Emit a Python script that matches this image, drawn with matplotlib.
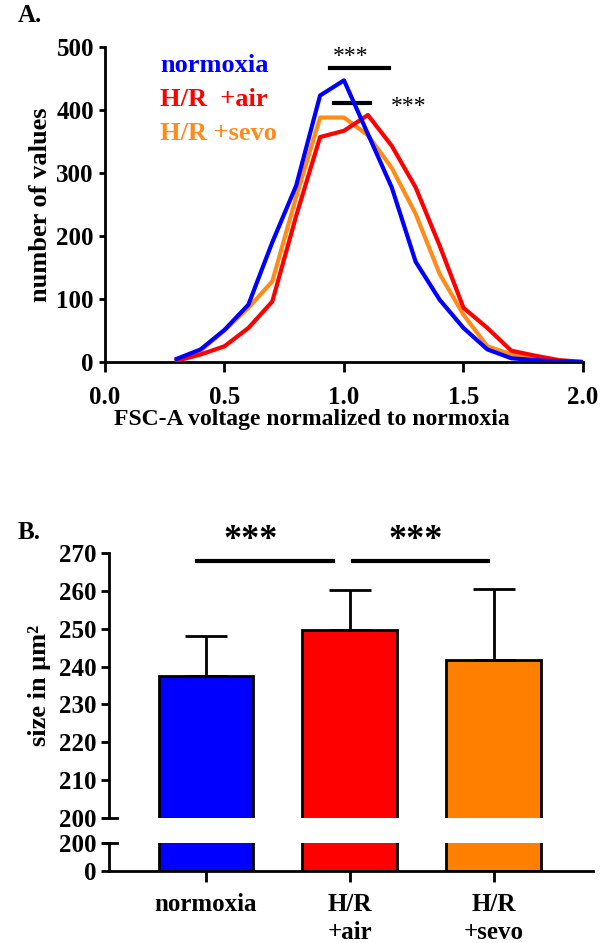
import matplotlib
matplotlib.use("Agg")
import matplotlib.pyplot as plt
import numpy as np

plt.rcParams['font.family'] = ['Liberation Serif', 'DejaVu Serif']
plt.rcParams['font.weight'] = 'bold'

# ---- Panel A data ----
fsc_x = [0.3, 0.4, 0.5, 0.6, 0.7, 0.8, 0.9, 1.0, 1.1, 1.2, 1.3, 1.4, 1.5, 1.6, 1.7, 1.8, 1.9, 2.0]
normoxia_counts = [5, 20, 51, 91, 190, 280, 423, 447, 362, 277, 159, 99, 54, 20, 6, 3, 1, 0]
hr_air_counts = [2, 12, 25, 54, 96, 232, 357, 367, 392, 343, 277, 185, 86, 54, 18, 10, 3, 0]
hr_sevo_counts = [3, 18, 50, 86, 128, 262, 388, 388, 360, 308, 235, 140, 75, 25, 12, 5, 2, 0]
series_names = ["normoxia", "H/R  +air", "H/R +sevo"]
line_colors = ["#0000FF", "#FF0000", "#FF8C1A"]

# ---- Panel B data ----
groups = ["normoxia", "H/R\n+air", "H/R\n+sevo"]
size_mean = [237.5, 249.7, 241.7]
size_sd = [10.5, 10.5, 18.8]
bar_colors = ["#0000FF", "#FF0000", "#FF8000"]

fig = plt.figure(figsize=(6.01, 9.43), dpi=100)

# ================= Panel A =================
axA = fig.add_axes([0.1747, 0.6161, 0.7953, 0.3341])
axA.plot(fsc_x, hr_sevo_counts, color=line_colors[2], lw=3, zorder=2)
axA.plot(fsc_x, hr_air_counts, color=line_colors[1], lw=3, zorder=3)
axA.plot(fsc_x, normoxia_counts, color=line_colors[0], lw=3, zorder=4)
axA.set_xlim(0, 2.0)
axA.set_ylim(0, 500)
axA.set_xticks([0.0, 0.5, 1.0, 1.5, 2.0])
axA.set_xticklabels(["0.0", "0.5", "1.0", "1.5", "2.0"])
axA.set_yticks([0, 100, 200, 300, 400, 500])
for s in ['top', 'right']:
    axA.spines[s].set_visible(False)
for s in ['left', 'bottom']:
    axA.spines[s].set_linewidth(2)
axA.tick_params(axis='x', length=7, width=2, labelsize=18, pad=10)
axA.tick_params(axis='y', length=4, width=2, labelsize=18, pad=4)
axA.set_ylabel("number of values", fontsize=19, fontweight='bold', labelpad=3)
fig.text(312 / 601, 1 - 419 / 943, "FSC-A voltage normalized to normoxia",
         fontsize=17, fontweight='bold', ha='center', va='center')

for name, c, yy in zip(series_names, line_colors, [471, 416, 363]):
    axA.text(0.23, yy, name, color=c, fontsize=19, fontweight='bold', ha='left', va='center')

axA.plot([0.94, 1.19], [466, 466], color='black', lw=3, clip_on=False)
axA.text(1.03, 468, "***", fontsize=17, fontweight='normal', ha='center', va='bottom')
axA.plot([0.957, 1.11], [411, 411], color='black', lw=3, clip_on=False)
axA.text(1.27, 405, "***", fontsize=17, fontweight='normal', ha='center', va='center')

fig.text(0.03, 0.984, "A.", fontsize=18, fontweight='bold', ha='left', va='center')

# ================= Panel B =================
left_b, width_b = 0.1814, 0.8053
axB = fig.add_axes([left_b, 0.1326, width_b, 0.2810])
axB2 = fig.add_axes([left_b, 0.0764, width_b, 0.0297])
xpos = np.arange(len(groups))
for ax in (axB, axB2):
    ax.bar(xpos, size_mean, width=0.66, color=bar_colors, edgecolor='black', linewidth=2, zorder=2)
    ax.set_xlim(-0.674, 2.69)
    for s in ['top', 'right']:
        ax.spines[s].set_visible(False)
    ax.spines['left'].set_linewidth(2)
    ax.spines['bottom'].set_linewidth(2)
    ax.tick_params(axis='y', length=6, width=2, labelsize=18, pad=3)

axB.errorbar(xpos, size_mean, yerr=[[0] * 3, size_sd], fmt='none', ecolor='black',
             elinewidth=2, capsize=15, capthick=2, zorder=3)
axB.set_ylim(200, 270)
axB.set_yticks([200, 210, 220, 230, 240, 250, 260, 270])
axB.spines['bottom'].set_visible(False)
axB.tick_params(axis='x', bottom=False, labelbottom=False)
axB.set_ylabel("size in μm²", fontsize=19, fontweight='bold', labelpad=6)

axB2.set_ylim(0, 200)
axB2.set_yticks([0, 200])
axB2.set_xticks(xpos)
axB2.set_xticklabels(groups, fontsize=18, fontweight='bold', linespacing=1.25, va='top')
axB2.tick_params(axis='x', length=8, width=2, pad=8)

# break marks
axB.plot([-0.715, -0.618], [200, 200], color='black', lw=2, clip_on=False, zorder=5)
axB2.plot([-0.715, -0.618], [200, 200], color='black', lw=2, clip_on=False, zorder=5)

# significance
axB.plot([-0.06, 0.88], [268, 268], color='black', lw=3, clip_on=False)
axB.plot([1.02, 1.96], [268, 268], color='black', lw=3, clip_on=False)
axB.text(0.31, 273.3, "***", fontsize=26, fontweight='bold', ha='center', va='center')
axB.text(1.46, 273.3, "***", fontsize=26, fontweight='bold', ha='center', va='center')

fig.text(0.03, 0.4348, "B.", fontsize=18, fontweight='bold', ha='left', va='center')

fig.savefig("out.png", dpi=100)
